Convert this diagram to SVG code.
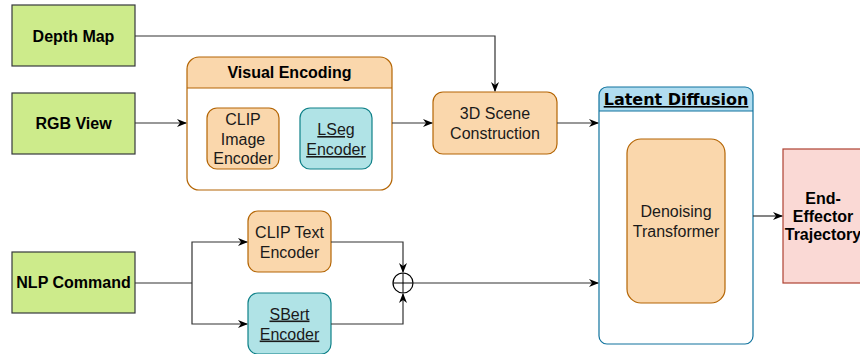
<svg xmlns="http://www.w3.org/2000/svg" width="860" height="354" viewBox="0 0 860 354">
<defs>
<marker id="arr" markerWidth="10" markerHeight="10" refX="9" refY="5" orient="auto" markerUnits="userSpaceOnUse">
<path d="M0,1 L10,5 L0,9 L3,5 z" fill="#000"/>
</marker>
</defs>
<style>
.green{fill:#cdeb8b;stroke:#36393d;stroke-width:1.2}
.orange{fill:#fad7ac;stroke:#b46504;stroke-width:1.2}
.blue{fill:#b0e3e6;stroke:#0e8088;stroke-width:1.2}
.red{fill:#fad9d5;stroke:#ae4132;stroke-width:1.2}
.b{font-family:"Liberation Sans",Arial,sans-serif;font-weight:bold;font-size:16px;fill:#000;text-anchor:middle}
.r{font-family:"Liberation Sans",Arial,sans-serif;font-size:16px;fill:#1a1a1a;text-anchor:middle}
.u{text-decoration:underline}
.conn{fill:none;stroke:#333;stroke-width:1.2}
</style>
<g id="depth-map"><rect class="green" x="12" y="5" width="123" height="61"/><text class="b" x="73.5" y="41.5">Depth Map</text></g>
<g id="rgb-view"><rect class="green" x="12" y="93" width="123" height="61"/><text class="b" x="73.5" y="129">RGB View</text></g>
<g id="nlp-command"><rect class="green" x="12" y="252" width="123" height="61"/><text class="b" x="73.5" y="288">NLP Command</text></g>
<g id="visual-encoding">
<path d="M187,88 V69 a12,12 0 0 1 12,-12 H380 a12,12 0 0 1 12,12 V88 z" fill="#fad7ac"/>
<rect x="187" y="57" width="205" height="133" rx="12" fill="none" stroke="#b46504" stroke-width="1.2"/>
<line x1="187" y1="88" x2="392" y2="88" stroke="#b46504" stroke-width="1.2"/>
<text class="b" x="289.5" y="78">Visual Encoding</text>
</g>
<g id="clip-image-encoder"><rect class="orange" x="207" y="108" width="72" height="61" rx="10"/><text class="r" x="243" y="125">CLIP</text><text class="r" x="243" y="145">Image</text><text class="r" x="243" y="164">Encoder</text></g>
<g id="lseg-encoder"><rect class="blue" x="300" y="108" width="72" height="61" rx="10"/><text class="r u" x="336" y="135">LSeg</text><text class="r u" x="336" y="155">Encoder</text></g>
<g id="scene-construction"><rect class="orange" x="433" y="92" width="124" height="62" rx="10"/><text class="r" x="495" y="119">3D Scene</text><text class="r" x="495" y="139">Construction</text></g>
<g id="latent-diffusion">
<path d="M599,111 V95 a8,8 0 0 1 8,-8 H745 a8,8 0 0 1 8,8 V111 z" fill="#b1ddf0"/>
<rect x="599" y="87" width="154" height="257" rx="8" fill="none" stroke="#10739e" stroke-width="1.2"/>
<line x1="599" y1="111" x2="753" y2="111" stroke="#10739e" stroke-width="1.2"/>
<text x="676" y="105" style="font-family:'DejaVu Sans',Verdana,sans-serif;font-weight:bold;font-size:16px;text-anchor:middle;text-decoration:underline">Latent Diffusion</text>
</g>
<g id="denoising-transformer"><rect class="orange" x="627" y="139" width="98" height="164" rx="14"/><text class="r" x="676" y="217">Denoising</text><text class="r" x="676" y="237">Transformer</text></g>
<g id="end-effector"><rect class="red" x="783" y="149" width="80" height="134"/><text class="b" x="823" y="204">End-</text><text class="b" x="823" y="222">Effector</text><text class="b" x="823" y="240">Trajectory</text></g>
<g id="clip-text-encoder"><rect class="orange" x="248" y="211" width="83" height="61" rx="10"/><text class="r" x="289.5" y="237.5">CLIP Text</text><text class="r" x="289.5" y="257.5">Encoder</text></g>
<g id="sbert-encoder"><rect class="blue" x="248" y="293" width="83" height="61" rx="10"/><text class="r u" x="289.5" y="319.5">SBert</text><text class="r u" x="289.5" y="339.5">Encoder</text></g>
<g id="sum-node"><circle cx="403" cy="283" r="10" fill="#fff" stroke="#000" stroke-width="1.2"/><line x1="393" y1="283" x2="413" y2="283" stroke="#000" stroke-width="1"/><line x1="403" y1="273" x2="403" y2="293" stroke="#000" stroke-width="1"/></g>
<g id="connectors">
<path class="conn" d="M135,36 H495 V91" marker-end="url(#arr)"/>
<path class="conn" d="M135,123 H186" marker-end="url(#arr)"/>
<path class="conn" d="M392,123 H432" marker-end="url(#arr)"/>
<path class="conn" d="M557,123 H598" marker-end="url(#arr)"/>
<path class="conn" d="M753,216 H782" marker-end="url(#arr)"/>
<path class="conn" d="M135,283 H192"/>
<path class="conn" d="M192,283 V242 H247" marker-end="url(#arr)"/>
<path class="conn" d="M192,283 V324 H247" marker-end="url(#arr)"/>
<path class="conn" d="M331,242 H403 V272" marker-end="url(#arr)"/>
<path class="conn" d="M331,324 H403 V294" marker-end="url(#arr)"/>
<path class="conn" d="M413,283 H598" marker-end="url(#arr)"/>
</g>
</svg>
